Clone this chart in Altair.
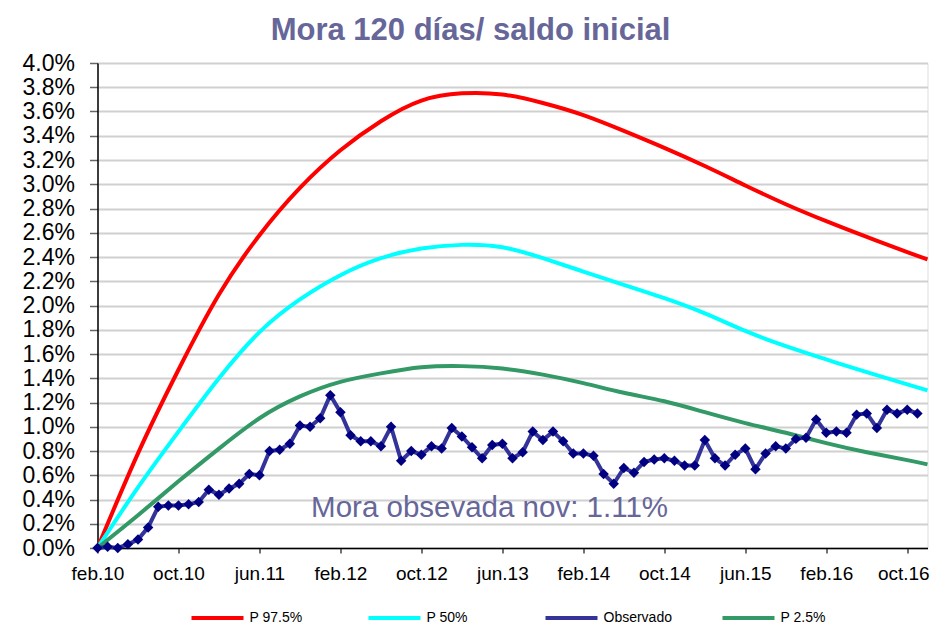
import json
import altair as alt
import pandas as pd

# ---------------- data ----------------
tick_labels = ["feb.10", "oct.10", "jun.11", "feb.12", "oct.12", "jun.13",
               "feb.14", "oct.14", "jun.15", "feb.16", "oct.16"]
tick_months = [0, 8, 16, 24, 32, 40, 48, 56, 64, 72, 80]
# y ticks in hundredths of a percent (0.0% .. 4.0% every 0.2%)
y_ticks = [0, 20, 40, 60, 80, 100, 120, 140, 160, 180, 200, 220, 240, 260,
           280, 300, 320, 340, 360, 380, 400]

curve_months = [0, 4, 8, 12, 16, 20, 24, 28, 32, 36, 40, 44, 48, 52, 56,
                60, 64, 68, 72, 76, 80, 82]
p975 = [0.00, 0.78, 1.47, 2.09, 2.58, 2.97, 3.28, 3.52, 3.69, 3.75, 3.74,
        3.67, 3.57, 3.44, 3.30, 3.15, 2.99, 2.835, 2.695, 2.565, 2.44, 2.38]
p50 = [0.00, 0.50, 0.96, 1.40, 1.78, 2.05, 2.25, 2.39, 2.47, 2.50, 2.48,
       2.39, 2.28, 2.17, 2.06, 1.935, 1.79, 1.665, 1.555, 1.45, 1.35, 1.30]
p25 = [0.00, 0.27, 0.55, 0.82, 1.07, 1.25, 1.37, 1.44, 1.49, 1.50, 1.48,
       1.43, 1.36, 1.28, 1.21, 1.12, 1.03, 0.95, 0.865, 0.79, 0.725, 0.69]

# monthly observed (%), feb.10 .. nov.16
observado = [0.00, 0.01, 0.00, 0.03, 0.07, 0.17, 0.34, 0.35, 0.35, 0.36,
             0.38, 0.48, 0.44, 0.49, 0.53, 0.61, 0.60, 0.80, 0.81, 0.86,
             1.01, 1.00, 1.07, 1.26, 1.12, 0.93, 0.88, 0.88, 0.84, 1.00,
             0.72, 0.80, 0.77, 0.84, 0.82, 0.99, 0.92, 0.83, 0.74, 0.85,
             0.86, 0.74, 0.79, 0.96, 0.89, 0.96, 0.88, 0.78, 0.78, 0.76,
             0.61, 0.53, 0.66, 0.62, 0.71, 0.73, 0.74, 0.72, 0.68, 0.68,
             0.89, 0.74, 0.68, 0.77, 0.82, 0.65, 0.78, 0.84, 0.82, 0.90,
             0.91, 1.06, 0.95, 0.96, 0.95, 1.10, 1.11, 0.99, 1.14, 1.11,
             1.14, 1.11]

series_names = ["P 97.5%", "P 50%", "Observado", "P 2.5%"]
series_colors = ["#FF0000", "#00FFFF", "#333399", "#339966"]

title_text = "Mora 120 días/ saldo inicial"
note_text = "Mora obsevada nov: 1.11%"
note_month = [21.1]
note_value = [0.256]

# ---------------- frames (values in hundredths of a percent) ----------------
rows = []
for name, vals in (("P 97.5%", p975), ("P 50%", p50), ("P 2.5%", p25)):
    for m, v in zip(curve_months, vals):
        rows.append({"month": m, "value": v * 100.0, "series": name})
curves_df = pd.DataFrame(rows)

obs_df = pd.DataFrame({
    "month": list(range(len(observado))),
    "value": [v * 100.0 for v in observado],
    "series": ["Observado"] * len(observado),
})

note_df = pd.DataFrame({"month": note_month,
                        "value": [v * 100.0 for v in note_value],
                        "label": [note_text]})

FONT = "Liberation Sans"

x_label_expr = json.dumps(tick_labels) + "[round(datum.value / 8)]"
y_label_expr = "format(datum.value / 100, '.1f') + '%'"

x_enc = alt.X("month:Q",
              scale=alt.Scale(domain=[0, 82], nice=False, zero=False),
              axis=alt.Axis(values=tick_months, labelExpr=x_label_expr,
                            title=None, grid=False, tickSize=5,
                            labelPadding=11, labelFontSize=19,
                            labelFlush=False, labelOverlap=False,
                            labelOffset={"condition": {"test": "datum.value == 80",
                                                       "value": -4},
                                         "value": 0},
                            labelFont=FONT, labelColor="#000000",
                            domainColor="#000000", domainWidth=1.5,
                            tickColor="#444444", tickWidth=1.5))

y_enc = alt.Y("value:Q",
              scale=alt.Scale(domain=[0, 400], nice=False),
              axis=alt.Axis(values=y_ticks, labelExpr=y_label_expr,
                            title=None, grid=True, gridColor="#D0D0D0",
                            gridWidth=2, tickSize=8, labelPadding=15,
                            labelFontSize=23, labelFont=FONT,
                            labelOverlap=False, labelFlush=False,
                            labelColor="#000000", domainColor="#000000",
                            domainWidth=1.5, tickColor="#666666",
                            tickWidth=1.5))

color_scale = alt.Scale(domain=series_names, range=series_colors)
legend = alt.Legend(title=None, orient="none", legendX=92, legendY=527,
                    direction="horizontal", columns=4, gridAlign="all",
                    symbolType="stroke", symbolSize=2704,
                    symbolStrokeWidth=4, labelFontSize=14, labelFont=FONT,
                    labelColor="#000000", labelOffset=4, columnPadding=42)

curves = alt.Chart(curves_df).mark_line(
    strokeWidth=4, interpolate="natural"
).encode(
    x=x_enc, y=y_enc,
    color=alt.Color("series:N", scale=color_scale, legend=legend),
    detail="series:N",
)

obs_line = alt.Chart(obs_df).mark_line(strokeWidth=4).encode(
    x=x_enc, y=y_enc,
    color=alt.Color("series:N", scale=color_scale, legend=legend),
)

obs_pts = alt.Chart(obs_df).mark_point(
    shape="diamond", filled=True, size=110, color="#000080", opacity=1
).encode(x=x_enc, y=y_enc)

note = alt.Chart(note_df).mark_text(
    align="left", baseline="alphabetic", fontSize=29.5, font=FONT,
    color="#666699"
).encode(x=x_enc, y=y_enc, text="label:N")

chart = alt.layer(curves, obs_line, obs_pts, note).properties(
    width=830, height=485,
    padding={"left": 89.5, "top": 55, "right": 4, "bottom": 78},
    autosize=alt.AutoSizeParams(type="none"),
    title=alt.TitleParams(text=title_text, fontSize=31, fontWeight="bold",
                          font=FONT, color="#666699", anchor="middle",
                          dx=-42, offset=5),
).configure_view(stroke=None).configure(background="#FFFFFF")

chart.save("out.html", embed_options={"renderer": "svg", "actions": False})
